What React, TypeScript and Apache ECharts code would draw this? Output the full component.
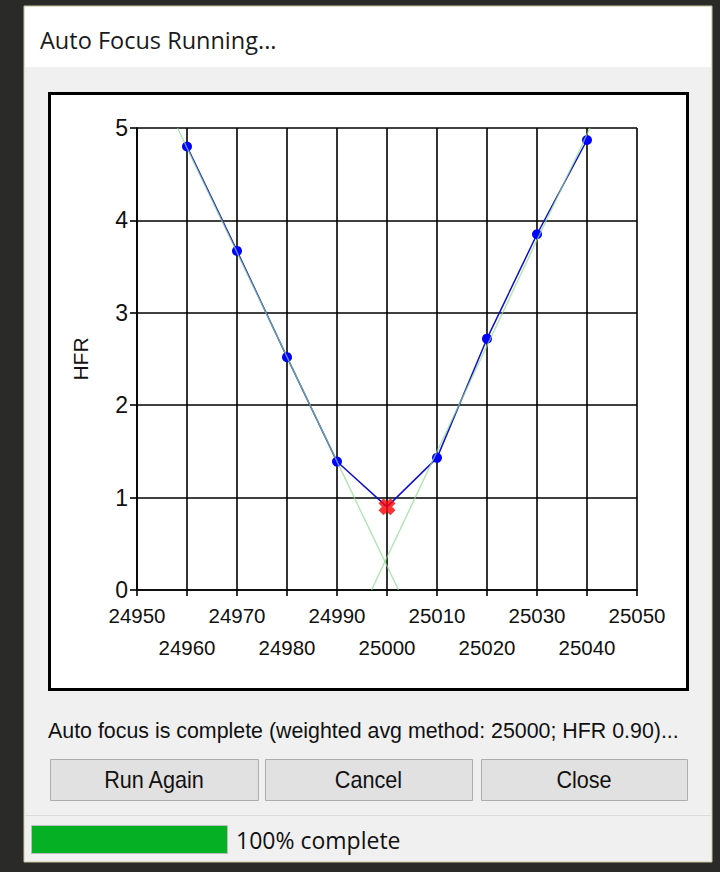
import React, { useEffect, useRef } from "react";
import * as echarts from "echarts";

// Focus positions and measured HFR
const focusPositions = [24960, 24970, 24980, 24990, 25000, 25010, 25020, 25030, 25040];
const hfrValues = [4.80, 3.67, 2.52, 1.39, 0.90, 1.43, 2.72, 3.85, 4.87];
// best focus (weighted avg)
const bestFocus = [25000, 0.90];
// fitted V-lines (end points)
const leftFit = [[24958.1, 5], [25002.3, 0]];
const rightFit = [[24996.9, 0], [25040.6, 5]];
// axes
const xMin = 24950, xMax = 25050, xStep = 10;
const yMin = 0, yMax = 5, yStep = 1;

const titleText = "Auto Focus Running...";
const statusText = "Auto focus is complete (weighted avg method: 25000; HFR 0.90)...";
const buttonLabels = ["Run Again", "Cancel", "Close"];
const progressText = "100% complete";

const AXIS_FONT = '"Liberation Sans", Arial, sans-serif';

export default function App() {
  const ref = useRef<HTMLDivElement>(null);
  useEffect(() => {
    if (!ref.current) return;
    const chart = echarts.init(ref.current, null, { renderer: "svg" });
    const lineData = focusPositions.map((x, i) => [x, hfrValues[i]]);
    const btnX = [50, 265, 481];
    const btnW = [208, 207, 206];
    const buttons: any[] = [];
    buttonLabels.forEach((t, i) => {
      buttons.push({
        type: "rect", z: -5,
        shape: { x: btnX[i] + 0.5, y: 759.5, width: btnW[i], height: 41 },
        style: { fill: "#e1e1e1", stroke: "#adadad", lineWidth: 1 },
      });
      buttons.push({
        type: "text", z: 5,
        x: btnX[i] + btnW[i] / 2, y: 780, scaleX: 0.94,
        style: {
          text: t, x: 0, y: 0,
          font: '23px "Liberation Sans", Arial, sans-serif', fill: "#111",
          textAlign: "center", textVerticalAlign: "middle", align: "center", verticalAlign: "middle",
        },
      });
    });
    const labelRow = (odd: boolean) => (v: number) => {
      const isOdd = Math.round((v - xMin) / xStep) % 2 === 1;
      return isOdd === odd ? String(v) : "";
    };
    const xBase: any = {
      type: "value", min: xMin, max: xMax, interval: xStep, gridIndex: 0, position: "bottom",
    };
    const option: any = {
      animation: false,
      backgroundColor: "#2a2b28",
      graphic: [
        { type: "rect", z: -10, shape: { x: 24, y: 6, width: 688, height: 856 }, style: { fill: "#f0f0f0", stroke: "#c8c8a0", lineWidth: 1 } },
        { type: "rect", z: -9, shape: { x: 25, y: 7, width: 686, height: 60 }, style: { fill: "#ffffff" } },
        {
          type: "text", z: 5,
          style: { text: titleText, x: 40, y: 40, font: '23.5px "Open Sans", "Noto Sans", sans-serif', fill: "#1a1a1a", textVerticalAlign: "middle", verticalAlign: "middle" },
        },
        { type: "rect", z: -8, shape: { x: 49.5, y: 93.5, width: 638, height: 596 }, style: { fill: "#ffffff", stroke: "#000", lineWidth: 3 } },
        {
          type: "text", z: 5, x: 48, y: 730, scaleX: 0.93,
          style: { text: statusText, x: 0, y: 0, font: '23px "Liberation Sans", Arial, sans-serif', fill: "#111", textVerticalAlign: "middle", verticalAlign: "middle" },
        },
        ...buttons,
        { type: "line", z: -5, shape: { x1: 25, y1: 815.5, x2: 711, y2: 815.5 }, style: { stroke: "#dcdcdc", lineWidth: 1 } },
        { type: "rect", z: -5, shape: { x: 31.5, y: 825.5, width: 196, height: 28 }, style: { fill: "#06b025", stroke: "#bcbcbc", lineWidth: 1 } },
        {
          type: "text", z: 5,
          style: { text: progressText, x: 236, y: 840, font: '23px "Open Sans", "Noto Sans", sans-serif', fill: "#111", textVerticalAlign: "middle", verticalAlign: "middle" },
        },
      ],
      grid: { left: 137, right: 83, top: 128, bottom: 282, containLabel: false },
      xAxis: [
        {
          ...xBase,
          axisLine: { show: true, onZero: false, lineStyle: { color: "#000", width: 1.6 } },
          axisTick: { show: true, length: 6, lineStyle: { color: "#000", width: 1.6 } },
          splitLine: { show: true, lineStyle: { color: "#000", width: 1.6 } },
          axisLabel: { color: "#111", fontSize: 20.5, fontFamily: AXIS_FONT, margin: 15, formatter: labelRow(false) },
        },
        {
          ...xBase, offset: 32,
          axisLine: { show: false }, axisTick: { show: false }, splitLine: { show: false },
          axisLabel: { color: "#111", fontSize: 20.5, fontFamily: AXIS_FONT, margin: 15, formatter: labelRow(true) },
        },
      ],
      yAxis: {
        type: "value", min: yMin, max: yMax, interval: yStep,
        name: "HFR", nameLocation: "middle", nameRotate: 90, nameGap: 46,
        nameTextStyle: { color: "#111", fontSize: 21, fontFamily: AXIS_FONT },
        axisLine: { show: true, lineStyle: { color: "#000", width: 1.6 } },
        axisTick: { show: true, length: 7, lineStyle: { color: "#000", width: 1.6 } },
        splitLine: { show: true, lineStyle: { color: "#000", width: 1.6 } },
        axisLabel: { color: "#111", fontSize: 23, fontFamily: AXIS_FONT, margin: 9 },
      },
      series: [
        {
          type: "line", data: lineData, z: 3,
          lineStyle: { color: "#1010c8", width: 1.5 },
          symbol: "circle", symbolSize: (v: number[]) => (v[0] === bestFocus[0] ? 0 : 10),
          itemStyle: { color: "#0000ff" },
        },
        {
          type: "line", data: leftFit, z: 4, symbol: "none",
          lineStyle: { color: "#8fd88f", width: 1.4, opacity: 0.7 },
        },
        {
          type: "line", data: rightFit, z: 4, symbol: "none",
          lineStyle: { color: "#8fd88f", width: 1.4, opacity: 0.7 },
        },
        {
          type: "scatter", data: [bestFocus], z: 6,
          symbol: "path://M0,3 L3,0 L5,2 L7,0 L10,3 L8,5 L10,7 L7,10 L5,8 L3,10 L0,7 L2,5 Z",
          symbolSize: 17, itemStyle: { color: "#ff0000" },
        },
      ],
    };
    chart.setOption(option);
    return () => chart.dispose();
  }, []);
  return <div ref={ref} style={{ position: "absolute", left: 0, top: 0, width: 720, height: 872 }} />;
}
